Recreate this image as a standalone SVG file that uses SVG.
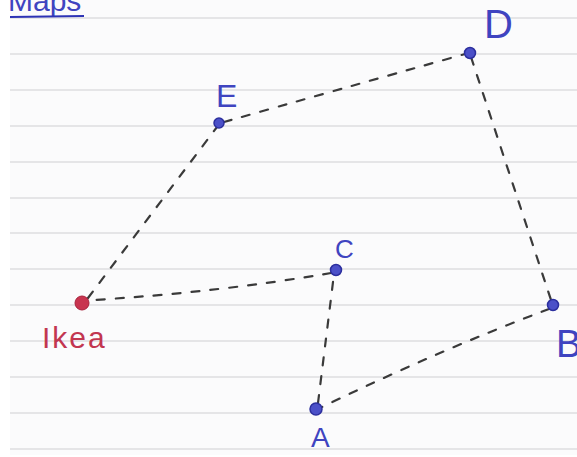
<svg xmlns="http://www.w3.org/2000/svg" width="577" height="457" viewBox="0 0 577 457">
<style>
.rule{stroke:#cfcfd2;stroke-width:1.2}
.edge{stroke:#3a3a3a;stroke-width:2.2;stroke-dasharray:8 11;fill:none;stroke-linecap:round}
.node{fill:#4b50c8;stroke:#2c2f9e;stroke-width:1.5}
.lbl{font-family:"Liberation Sans",Arial,sans-serif;fill:#3f44c0}
.ikea{fill:#c8344f;stroke:#a8223c}
.ikealbl{font-family:"Liberation Sans",Arial,sans-serif;fill:#c23650}
</style>
<rect width="577" height="457" fill="#ffffff"/>
<g id="paper">
<rect x="10" y="0" width="567" height="455" fill="#fbfbfc"/>
<line class="rule" x1="10" y1="18" x2="577" y2="18"/>
<line class="rule" x1="10" y1="54" x2="577" y2="54"/>
<line class="rule" x1="10" y1="90" x2="577" y2="90"/>
<line class="rule" x1="10" y1="126" x2="577" y2="126"/>
<line class="rule" x1="10" y1="162" x2="577" y2="162"/>
<line class="rule" x1="10" y1="198" x2="577" y2="198"/>
<line class="rule" x1="10" y1="233" x2="577" y2="233"/>
<line class="rule" x1="10" y1="269" x2="577" y2="269"/>
<line class="rule" x1="10" y1="305" x2="577" y2="305"/>
<line class="rule" x1="10" y1="341" x2="577" y2="341"/>
<line class="rule" x1="10" y1="377" x2="577" y2="377"/>
<line class="rule" x1="10" y1="413" x2="577" y2="413"/>
<line class="rule" x1="10" y1="449" x2="577" y2="449"/>
</g>
<g id="title">
<text x="8" y="11" class="lbl" font-size="30" fill="#2d33b5">Maps</text>
<line x1="10" y1="17" x2="84" y2="16" stroke="#2d33b5" stroke-width="2"/>
</g>
<g id="connectors">
<path class="edge" d="M88 298 L217 127"/>
<path class="edge" d="M224 122 Q330 92 465 54"/>
<path class="edge" d="M471 57 L551 300"/>
<path class="edge" d="M549 309 Q440 350 322 407"/>
<path class="edge" d="M318 403 L334 274"/>
<path class="edge" d="M331 273 Q220 292 94 300"/>
</g>
<g id="node-ikea">
<circle class="ikea" cx="82" cy="303" r="7"/>
<text x="42" y="348" class="ikealbl" font-size="30" letter-spacing="2">Ikea</text>
</g>
<g id="node-e">
<circle class="node" cx="219" cy="123" r="5"/>
<text x="216" y="107" class="lbl" font-size="32">E</text>
</g>
<g id="node-d">
<circle class="node" cx="470" cy="53" r="5.5"/>
<text x="484" y="38" class="lbl" font-size="40">D</text>
</g>
<g id="node-c">
<circle class="node" cx="336" cy="270" r="5.5"/>
<text x="335" y="258" class="lbl" font-size="26">C</text>
</g>
<g id="node-b">
<circle class="node" cx="553" cy="305" r="5.5"/>
<text x="556" y="357" class="lbl" font-size="38">B</text>
</g>
<g id="node-a">
<circle class="node" cx="316" cy="409" r="6"/>
<text x="311" y="447" class="lbl" font-size="28">A</text>
</g>
</svg>
